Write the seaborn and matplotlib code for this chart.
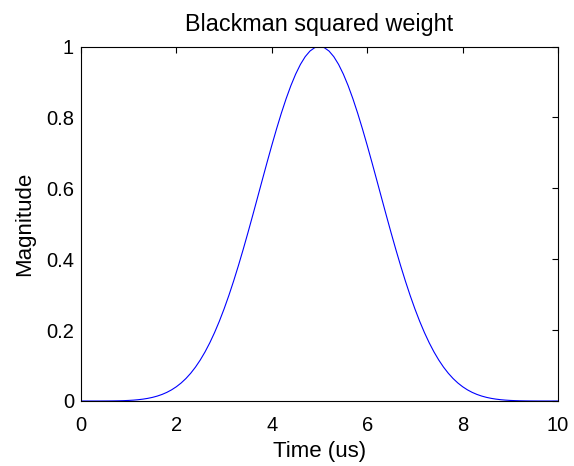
import numpy as np
import pandas as pd
import seaborn as sns
import matplotlib
matplotlib.use("Agg")
import matplotlib.pyplot as plt

# Rising half of the weight (0 .. 5 us, 0.1 us steps); the falling half mirrors it
time_rise = [0.0, 0.1, 0.2, 0.3, 0.4, 0.5, 0.6, 0.7, 0.8, 0.9,
             1.0, 1.1, 1.2, 1.3, 1.4, 1.5, 1.6, 1.7, 1.8, 1.9,
             2.0, 2.1, 2.2, 2.3, 2.4, 2.5, 2.6, 2.7, 2.8, 2.9,
             3.0, 3.1, 3.2, 3.3, 3.4, 3.5, 3.6, 3.7, 3.8, 3.9,
             4.0, 4.1, 4.2, 4.3, 4.4, 4.5, 4.6, 4.7, 4.8, 4.9, 5.0]
mag_rise = [0.0, 0.0, 0.000002, 0.00001, 0.000034, 0.000084, 0.00018, 0.000345, 0.000611, 0.001017,
            0.001617, 0.002473, 0.003665, 0.005286, 0.007447, 0.01028, 0.01393, 0.018566, 0.024372, 0.031549,
            0.04031, 0.050873, 0.063467, 0.078314, 0.095627, 0.1156, 0.138403, 0.164171, 0.192992, 0.224904,
            0.25989, 0.297838, 0.338603, 0.381938, 0.427522, 0.47495, 0.523773, 0.573429, 0.623323, 0.672805,
            0.72119, 0.767772, 0.811837, 0.852682, 0.889638, 0.92208, 0.949449, 0.971261, 0.98713, 0.996767, 1.0]

x_ticks = [0, 2, 4, 6, 8, 10]
y_ticks = [0, 0.2, 0.4, 0.6, 0.8, 1]
y_tick_labels = ["0", "0.2", "0.4", "0.6", "0.8", "1"]

# full symmetric curve from the rising half
time_us = time_rise + [round(10 - t, 1) for t in time_rise[-2::-1]]
magnitude = mag_rise + mag_rise[-2::-1]

sns.set_style("white")
plt.rcParams["font.family"] = ["Liberation Sans", "DejaVu Sans"]
plt.rcParams["text.color"] = "black"
plt.rcParams["axes.labelcolor"] = "black"

df = pd.DataFrame({"Time (us)": time_us, "Magnitude": magnitude})

fig = plt.figure(figsize=(5.74, 4.66), dpi=100)
ax = fig.add_axes([81 / 574, 65 / 466, 477 / 574, 354.5 / 466])

sns.lineplot(data=df, x="Time (us)", y="Magnitude", ax=ax,
             color="#0000ff", linewidth=0.8)

ax.set_xlim(0, 10)
ax.set_ylim(0, 1)
ax.set_xticks(x_ticks)
ax.set_xticklabels([str(t) for t in x_ticks])
ax.set_yticks(y_ticks)
ax.set_yticklabels(y_tick_labels)

for s in ax.spines.values():
    s.set_visible(True)
    s.set_color("black")
    s.set_linewidth(0.8)

ax.tick_params(axis="both", which="both", direction="in", length=4,
               width=0.8, colors="black", labelsize=14.5,
               top=True, right=True)
ax.tick_params(axis="x", pad=11)
ax.tick_params(axis="y", pad=5)

ax.set_xlabel("Time (us)", fontsize=16, labelpad=4, color="black")
ax.set_ylabel("Magnitude", fontsize=16, labelpad=8, color="black")
ax.set_title("Blackman squared weight", fontsize=16.8, pad=11, color="black")

fig.savefig("out.png", dpi=100, facecolor="white")
